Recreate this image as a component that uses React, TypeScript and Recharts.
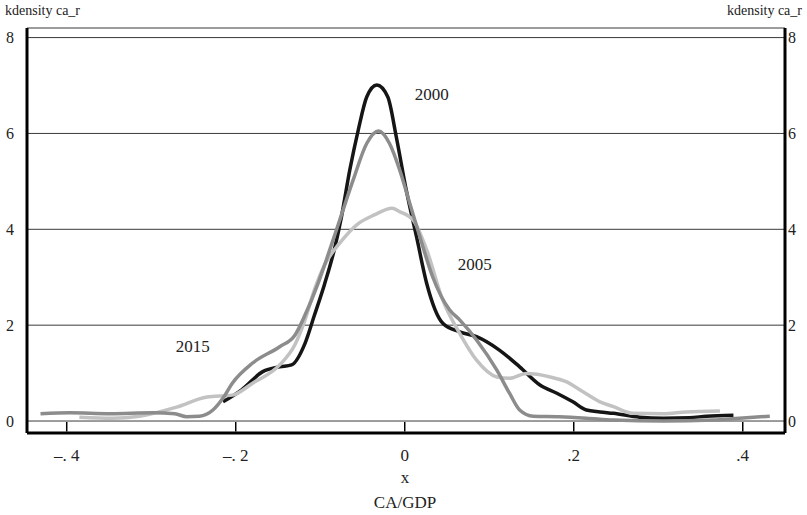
import React from 'react'
import { LineChart, Line, XAxis, YAxis, CartesianGrid, ReferenceDot } from 'recharts'

const FONT = '"Liberation Serif", "DejaVu Serif", serif'

// x ticks and labels (CA/GDP)
const xTicks = [-0.4, -0.2, 0, 0.2, 0.4]
const xTickLabels = ['–. 4', '–. 2', '0', '.2', '.4']
const yTicks = [0, 2, 4, 6, 8]

// 2000 (black)
const x2000 = [-0.215, -0.193, -0.168, -0.148, -0.134, -0.118, -0.107, -0.095, -0.083, -0.075, -0.065, -0.055, -0.045, -0.033, -0.02, -0.01, 0.002, 0.014, 0.026, 0.045, 0.065, 0.085, 0.112, 0.136, 0.16, 0.18, 0.199, 0.215, 0.231, 0.247, 0.278, 0.306, 0.337, 0.357, 0.389]
const y2000 = [0.4, 0.65, 1.03, 1.13, 1.17, 1.62, 2.2, 2.85, 3.6, 4.25, 5.24, 6.07, 6.76, 7.01, 6.76, 5.93, 4.8, 3.84, 2.87, 2.04, 1.86, 1.76, 1.48, 1.13, 0.75, 0.58, 0.4, 0.23, 0.19, 0.16, 0.08, 0.06, 0.07, 0.1, 0.12]

// 2005 (light grey)
const x2005 = [-0.385, -0.346, -0.314, -0.27, -0.234, -0.204, -0.18, -0.148, -0.13, -0.118, -0.107, -0.095, -0.077, -0.055, -0.036, -0.015, -0.006, 0.01, 0.026, 0.045, 0.065, 0.085, 0.109, 0.124, 0.144, 0.172, 0.191, 0.211, 0.231, 0.247, 0.27, 0.306, 0.333, 0.373]
const y2005 = [0.08, 0.06, 0.1, 0.29, 0.5, 0.54, 0.79, 1.17, 1.59, 2.11, 2.73, 3.25, 3.71, 4.12, 4.3, 4.44, 4.37, 4.19, 3.57, 2.52, 1.83, 1.27, 0.92, 0.89, 0.99, 0.92, 0.82, 0.61, 0.4, 0.3, 0.16, 0.15, 0.19, 0.21]

// 2015 (mid grey)
const x2015 = [-0.431, -0.396, -0.349, -0.298, -0.272, -0.258, -0.243, -0.227, -0.215, -0.204, -0.18, -0.148, -0.13, -0.118, -0.103, -0.093, -0.077, -0.061, -0.045, -0.031, -0.018, -0.006, 0.006, 0.018, 0.033, 0.053, 0.065, 0.085, 0.109, 0.124, 0.136, 0.152, 0.183, 0.215, 0.247, 0.306, 0.365, 0.396, 0.432]
const y2015 = [0.15, 0.17, 0.15, 0.17, 0.15, 0.09, 0.1, 0.23, 0.48, 0.79, 1.21, 1.55, 1.79, 2.21, 2.85, 3.35, 4.19, 5.03, 5.79, 6.05, 5.79, 5.24, 4.54, 3.84, 3.01, 2.32, 2.11, 1.69, 1.06, 0.58, 0.23, 0.1, 0.09, 0.06, 0.02, 0.0, 0.02, 0.06, 0.1]

const annotations = [
  { text: '2000', x: 0.032, y: 6.82 },
  { text: '2005', x: 0.083, y: 3.28 },
  { text: '2015', x: -0.251, y: 1.56 },
]

const zip = (xs: number[], ys: number[]) => xs.map((x, i) => ({ x, y: ys[i] }))

const XTick = (props: any) => {
  const { x, y, index } = props
  return (
    <g>
      <line x1={x} y1={y - 1.5} x2={x} y2={y - 11} stroke="#000" strokeWidth={1.5} />
      <text x={x} y={y + 28} textAnchor="middle" fontSize={17} fontFamily={FONT} fill="#222">
        {xTickLabels[index]}
      </text>
    </g>
  )
}

export default function App() {
  const tickStyle = { fontSize: 16, fontFamily: FONT, fill: '#222' }
  return (
    <div style={{ position: 'absolute', left: 0, top: 0, width: 807, height: 515, background: '#fff', fontFamily: FONT, color: '#222' }}>
      <div style={{ position: 'absolute', left: 5, top: 3, fontSize: 14 }}>kdensity ca_r</div>
      <div style={{ position: 'absolute', right: 5, top: 3, fontSize: 14 }}>kdensity ca_r</div>
      <div style={{ position: 'absolute', left: 0, width: 810, top: 468, fontSize: 17, textAlign: 'center' }}>x</div>
      <div style={{ position: 'absolute', left: 0, width: 810, top: 493, fontSize: 17, textAlign: 'center' }}>CA/GDP</div>

      <LineChart width={807} height={515} margin={{ top: 28, right: 0, bottom: 0, left: 0 }}>
        <CartesianGrid xAxisId="b" yAxisId="l" vertical={false} stroke="#3a3a3a" strokeWidth={1} />
        <XAxis
          xAxisId="b"
          type="number"
          dataKey="x"
          domain={[-0.447, 0.45]}
          allowDataOverflow
          ticks={xTicks}
          height={82}
          tickSize={0}
          tickMargin={0}
          tickLine={false}
          axisLine={{ stroke: '#000', strokeWidth: 3 }}
          tick={<XTick />}
        />
        <XAxis
          xAxisId="t"
          orientation="top"
          type="number"
          domain={[-0.447, 0.45]}
          allowDataOverflow
          height={0}
          tick={false}
          tickLine={false}
          axisLine={{ stroke: '#000', strokeWidth: 3 }}
        />
        <YAxis
          yAxisId="l"
          type="number"
          domain={[-0.25, 8.2]}
          allowDataOverflow
          ticks={yTicks}
          width={27}
          tickSize={0}
          tickMargin={13}
          tickLine={false}
          axisLine={{ stroke: '#000', strokeWidth: 3 }}
          tick={tickStyle}
        />
        <YAxis
          yAxisId="r"
          orientation="right"
          type="number"
          domain={[-0.25, 8.2]}
          allowDataOverflow
          ticks={yTicks}
          width={22}
          tickSize={0}
          tickMargin={3}
          tickLine={false}
          axisLine={{ stroke: '#000', strokeWidth: 3 }}
          tick={tickStyle}
        />
        <Line xAxisId="b" yAxisId="l" data={zip(x2000, y2000)} dataKey="y" type="monotone" stroke="#151515" strokeWidth={3.5} dot={false} isAnimationActive={false} />
        <Line xAxisId="b" yAxisId="l" data={zip(x2005, y2005)} dataKey="y" type="monotone" stroke="#c2c2c2" strokeWidth={3.5} dot={false} isAnimationActive={false} />
        <Line xAxisId="b" yAxisId="l" data={zip(x2015, y2015)} dataKey="y" type="monotone" stroke="#8c8c8c" strokeWidth={3.5} dot={false} isAnimationActive={false} />
        {annotations.map((a) => (
          <ReferenceDot
            key={a.text}
            xAxisId="b"
            yAxisId="l"
            x={a.x}
            y={a.y}
            r={0}
            stroke="none"
            fill="none"
            label={{ value: a.text, position: 'center', fontSize: 17, fontFamily: FONT, fill: '#222' }}
          />
        ))}
      </LineChart>
    </div>
  )
}
